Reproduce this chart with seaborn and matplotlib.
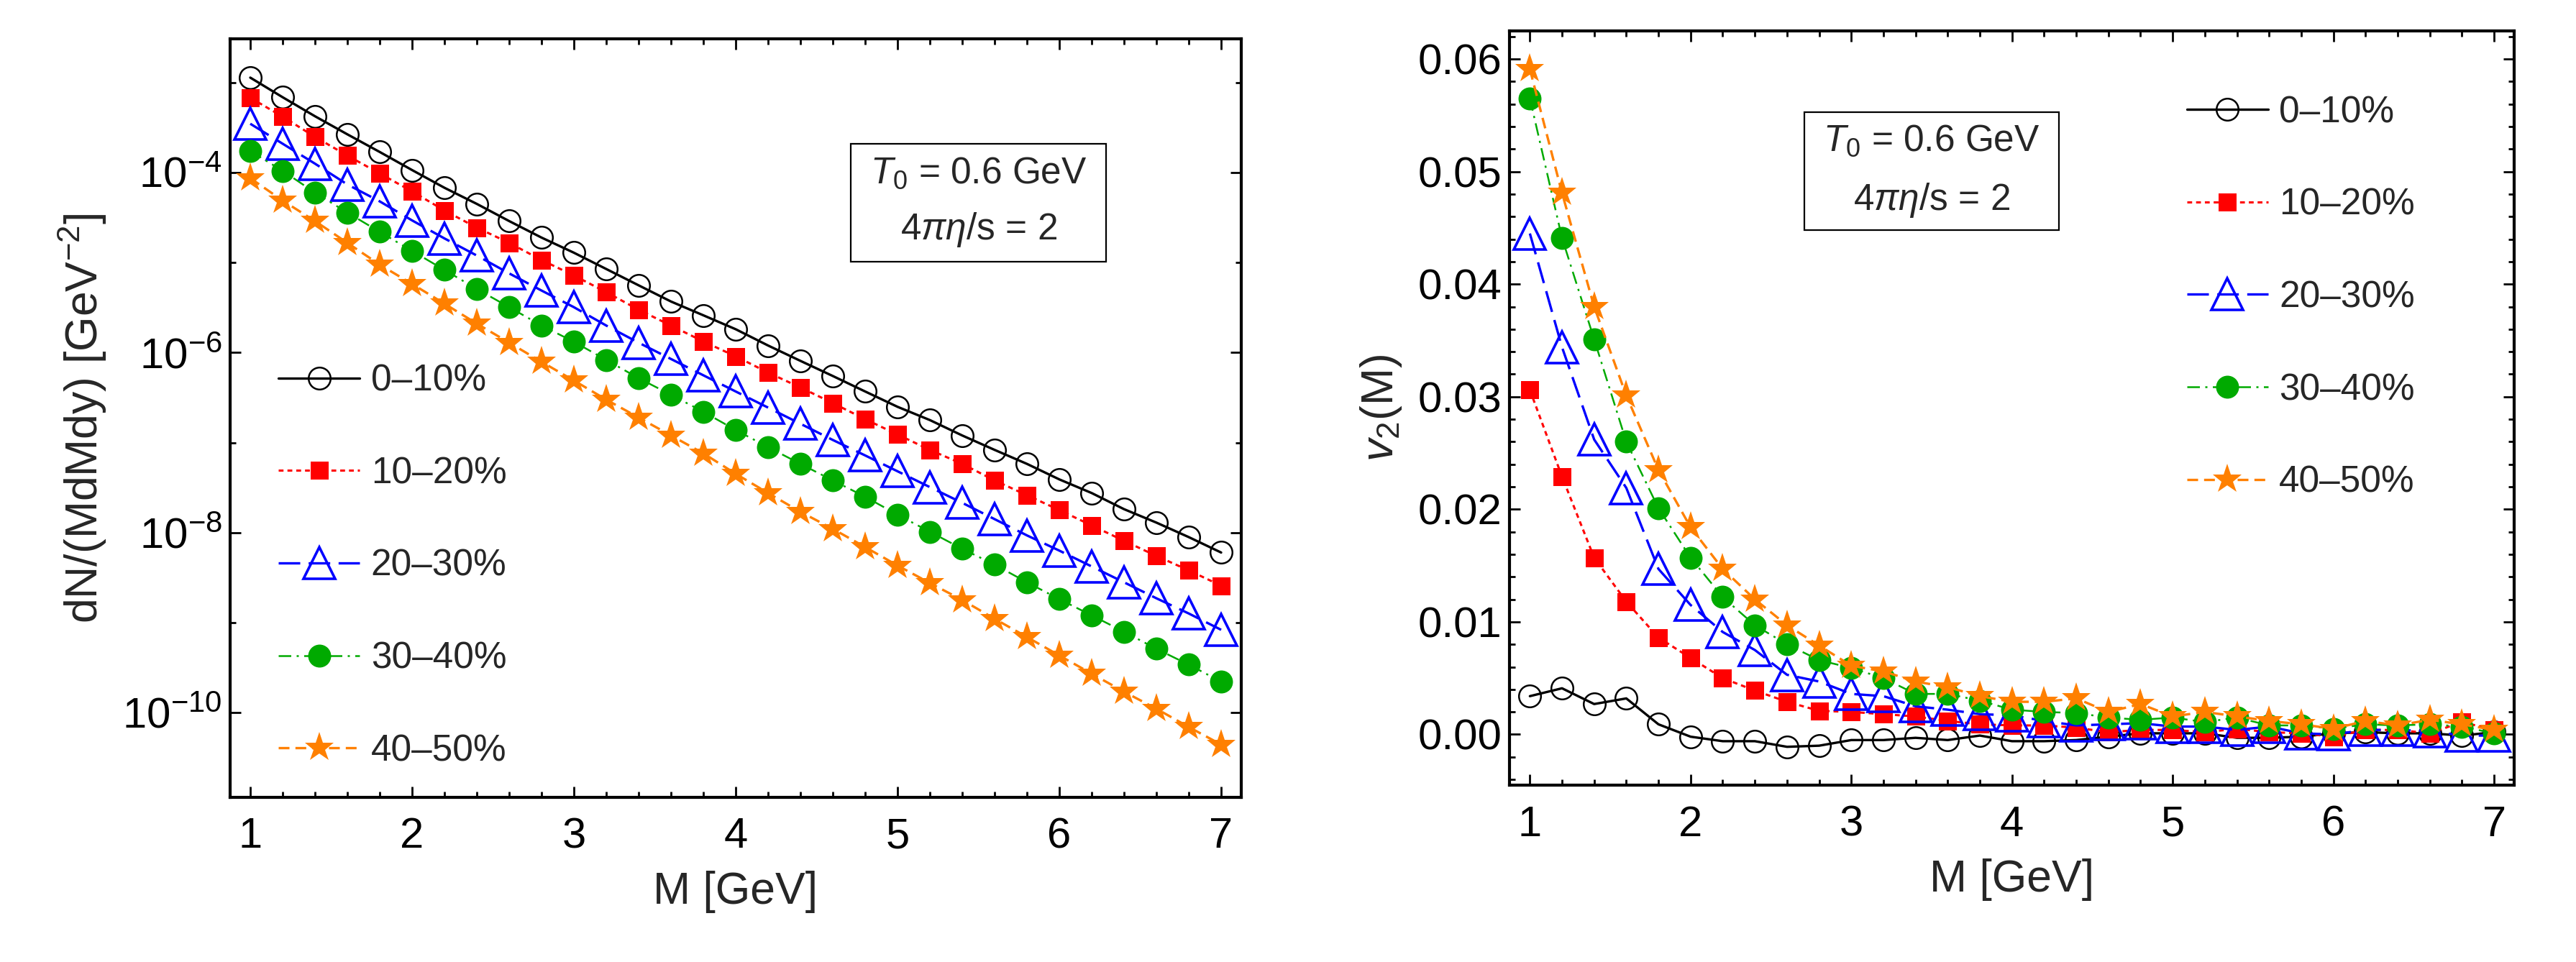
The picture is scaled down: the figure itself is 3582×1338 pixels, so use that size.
import numpy as np
import pandas as pd
import seaborn as sns
import matplotlib.pyplot as plt
from matplotlib.patches import Rectangle
from matplotlib.ticker import FixedLocator, FixedFormatter, MultipleLocator, NullFormatter

# invariant mass grid [GeV]
mass = [1.0, 1.2, 1.4, 1.6, 1.8, 2.0, 2.2, 2.4, 2.6, 2.8, 3.0, 3.2, 3.4, 3.6, 3.8,
        4.0, 4.2, 4.4, 4.6, 4.8, 5.0, 5.2, 5.4, 5.6, 5.8, 6.0, 6.2, 6.4, 6.6, 6.8, 7.0]
centralities = ["0\u201310%", "10\u201320%", "20\u201330%", "30\u201340%", "40\u201350%"]

## yields dN/(MdMdy)
yield_0_10 = [1.14e-3, 6.9e-4, 4.24e-4, 2.67e-4, 1.70e-4, 1.07e-4, 6.8e-5, 4.5e-5, 2.9e-5, 1.9e-5,
              1.29e-5, 8.5e-6, 5.6e-6, 3.7e-6, 2.6e-6, 1.82e-6, 1.20e-6, 8.1e-7, 5.5e-7, 3.7e-7,
              2.5e-7, 1.78e-7, 1.20e-7, 8.3e-8, 5.8e-8, 3.9e-8, 2.75e-8, 1.82e-8, 1.29e-8, 8.9e-9, 6.0e-9]
yield_10_20 = [6.8e-4, 4.2e-4, 2.5e-4, 1.55e-4, 9.8e-5, 6.2e-5, 3.8e-5, 2.45e-5, 1.66e-5, 1.07e-5,
               7.2e-6, 4.7e-6, 3.0e-6, 2.0e-6, 1.33e-6, 9.1e-7, 6.0e-7, 4.1e-7, 2.75e-7, 1.82e-7,
               1.23e-7, 8.3e-8, 5.8e-8, 3.8e-8, 2.6e-8, 1.78e-8, 1.20e-8, 8.1e-9, 5.5e-9, 3.8e-9, 2.57e-9]
yield_20_30 = [3.5e-4, 2.1e-4, 1.26e-4, 7.4e-5, 4.8e-5, 2.95e-5, 1.86e-5, 1.20e-5, 7.6e-6, 4.9e-6,
               3.2e-6, 2.0e-6, 1.29e-6, 8.5e-7, 5.6e-7, 3.7e-7, 2.45e-7, 1.62e-7, 1.07e-7, 7.2e-8,
               4.8e-8, 3.2e-8, 2.14e-8, 1.41e-8, 9.3e-9, 6.3e-9, 4.2e-9, 2.8e-9, 1.86e-9, 1.26e-9, 8.3e-10]
yield_30_40 = [1.74e-4, 1.05e-4, 6.0e-5, 3.6e-5, 2.2e-5, 1.35e-5, 8.3e-6, 5.1e-6, 3.2e-6, 2.0e-6,
               1.32e-6, 8.3e-7, 5.2e-7, 3.4e-7, 2.2e-7, 1.38e-7, 8.9e-8, 5.8e-8, 3.8e-8, 2.5e-8,
               1.58e-8, 1.02e-8, 6.6e-9, 4.4e-9, 2.8e-9, 1.82e-9, 1.20e-9, 7.9e-10, 5.1e-10, 3.4e-10, 2.2e-10]
yield_40_50 = [8.7e-5, 4.9e-5, 2.9e-5, 1.66e-5, 9.5e-6, 5.8e-6, 3.5e-6, 2.1e-6, 1.29e-6, 7.9e-7,
               4.9e-7, 3.0e-7, 1.9e-7, 1.2e-7, 7.6e-8, 4.5e-8, 2.75e-8, 1.70e-8, 1.10e-8, 6.9e-9,
               4.3e-9, 2.75e-9, 1.78e-9, 1.10e-9, 6.9e-10, 4.3e-10, 2.7e-10, 1.70e-10, 1.10e-10, 6.9e-11, 4.4e-11]

## elliptic flow v2(M)
v2_0_10 = [0.0034, 0.0041, 0.0027, 0.0032, 0.0009, -0.0002, -0.0006, -0.0006, -0.0011, -0.0010,
           -0.0005, -0.0005, -0.0003, -0.0005, -0.0001, -0.0006, -0.0006, -0.0005, -0.0002, 0.0001,
           0.0001, 0.0001, -0.0003, -0.0003, -0.0002, 0.0001, 0.0002, 0.0001, 0.0001, -0.0001, 0.0002]
v2_10_20 = [0.0306, 0.0229, 0.0157, 0.0118, 0.0086, 0.0068, 0.0050, 0.0039, 0.0029, 0.0021,
            0.0020, 0.0018, 0.0016, 0.0012, 0.0009, 0.0008, 0.0008, 0.0006, 0.0002, 0.0004,
            0.0004, 0.0002, 0.0005, 0.0002, 0.0001, -0.0002, 0.0004, 0.0004, 0.0001, 0.0011, 0.0004]
v2_20_30 = [0.0445, 0.0344, 0.0262, 0.0219, 0.0147, 0.0115, 0.0091, 0.0075, 0.0053, 0.0047,
            0.0036, 0.0034, 0.0025, 0.0022, 0.0018, 0.0017, 0.0012, 0.0008, 0.0009, 0.0010,
            0.0007, 0.0007, 0.0004, 0.0007, 0.0001, 0.0000, 0.0004, 0.0004, 0.0003, -0.0001, -0.0001]
v2_30_40 = [0.0565, 0.0441, 0.0351, 0.0260, 0.0201, 0.0157, 0.0122, 0.0097, 0.0080, 0.0066,
            0.0059, 0.0050, 0.0036, 0.0036, 0.0030, 0.0022, 0.0020, 0.0019, 0.0015, 0.0013,
            0.0015, 0.0011, 0.0015, 0.0008, 0.0008, 0.0005, 0.0009, 0.0008, 0.0009, 0.0007, 0.0001]
v2_40_50 = [0.0591, 0.0481, 0.0380, 0.0301, 0.0235, 0.0184, 0.0147, 0.0120, 0.0097, 0.0079,
            0.0061, 0.0056, 0.0047, 0.0042, 0.0034, 0.0029, 0.0029, 0.0032, 0.0020, 0.0027,
            0.0016, 0.0020, 0.0016, 0.0012, 0.0009, 0.0005, 0.0012, 0.0008, 0.0013, 0.0009, 0.0004]

yields = [yield_0_10, yield_10_20, yield_20_30, yield_30_40, yield_40_50]
v2s = [v2_0_10, v2_10_20, v2_20_30, v2_30_40, v2_40_50]

# style per centrality class
styles = [
    dict(color="black", marker="o", mfc="none", mec="black", mew=1.8, ms=22, lw=2.4, ls="-"),
    dict(color="#ff0000", marker="s", mfc="#ff0000", mec="#ff0000", mew=0, ms=18, lw=2.2, ls=(0, (2.2, 1.8))),
    dict(color="#0000ff", marker="^", mfc="none", mec="#0000ff", mew=2.6, ms=31, lw=2.4, ls=(0, (9, 3.5))),
    dict(color="#00aa00", marker="o", mfc="#00aa00", mec="#00aa00", mew=0, ms=23, lw=1.8, ls=(0, (7, 3, 1.2, 3))),
    dict(color="#ff8000", marker="*", mfc="#ff8000", mec="#ff8000", mew=0, ms=31, lw=2.4, ls=(0, (4.5, 2.5))),
]

sns.set_theme(style="ticks")
plt.rcParams["font.family"] = ["Liberation Sans", "DejaVu Sans"]
plt.rcParams["mathtext.fontset"] = "custom"
plt.rcParams["mathtext.rm"] = "Liberation Sans"
plt.rcParams["mathtext.it"] = "Liberation Sans:italic"
plt.rcParams["mathtext.bf"] = "Liberation Sans:bold"

fig = plt.figure(figsize=(35.82, 13.38), dpi=100)
ax1 = fig.add_axes([0.0893, 0.1715, 0.3926, 0.7878])
ax2 = fig.add_axes([0.5861, 0.1839, 0.3899, 0.7840])


def draw(ax, series):
    for vals, lab, st in zip(series, centralities, styles):
        df = pd.DataFrame({"M": mass, "val": vals})
        sns.lineplot(data=df, x="M", y="val", ax=ax, color=st["color"], linestyle=st["ls"],
                     linewidth=st["lw"], marker=st["marker"], markersize=st["ms"],
                     markerfacecolor=st["mfc"], markeredgecolor=st["mec"],
                     markeredgewidth=st["mew"], label=lab, errorbar=None, sort=False)


def frame(ax):
    for sp in ax.spines.values():
        sp.set_linewidth(3)
        sp.set_color("black")
    ax.tick_params(which="both", direction="in", top=True, right=True, width=2, colors="black")
    ax.tick_params(which="major", length=11, labelsize=43)
    ax.tick_params(which="minor", length=6)
    ax.tick_params(axis="x", which="major", pad=20)
    ax.tick_params(axis="y", which="major", pad=8)
    ax.xaxis.set_major_locator(MultipleLocator(1))
    ax.xaxis.set_minor_locator(MultipleLocator(0.2))
    ax.set_xlim(0.875, 7.125)
    ax.set_xlabel("M [GeV]", fontsize=45, labelpad=14)


def legend(ax, anchor):
    ax.legend(loc="upper left", bbox_to_anchor=anchor, frameon=False, fontsize=37,
              borderpad=0, borderaxespad=0, handlelength=2.2, handletextpad=0.3,
              labelspacing=1.55, numpoints=1)


def param_box(ax, x0, y0, x1, y1, ytext):
    ax.add_patch(Rectangle((x0, y0), x1 - x0, y1 - y0, transform=ax.transAxes,
                           fill=True, fc="white", ec="black", lw=1.6, zorder=5))
    xc = (x0 + x1) / 2
    ax.text(xc, ytext[0], "$T_0$ = 0.6 GeV", transform=ax.transAxes, ha="center",
            va="center", fontsize=37, zorder=6)
    ax.text(xc, ytext[1], "4$\\pi\\eta$/s = 2", transform=ax.transAxes, ha="center",
            va="center", fontsize=37, zorder=6)


# left: yields on log scale
draw(ax1, yields)
ax1.set_yscale("log")
frame(ax1)
ax1.set_ylim(1.15e-11, 3.05e-3)
ax1.yaxis.set_major_locator(FixedLocator([1e-10, 1e-8, 1e-6, 1e-4]))
ax1.yaxis.set_major_formatter(FixedFormatter([r"$10^{-10}$", r"$10^{-8}$", r"$10^{-6}$", r"$10^{-4}$"]))
ax1.yaxis.set_minor_locator(FixedLocator([1e-9, 1e-7, 1e-5, 1e-3]))
ax1.yaxis.set_minor_formatter(NullFormatter())
ax1.set_ylabel(r"dN/(MdMdy) [GeV$^{-2}$]", fontsize=45, labelpad=14)
legend(ax1, (0.048, 0.572))
param_box(ax1, 0.614, 0.706, 0.866, 0.862, (0.823, 0.749))

# right: v2(M)
draw(ax2, v2s)
frame(ax2)
ax2.set_ylim(-0.0045, 0.0625)
ax2.yaxis.set_major_locator(MultipleLocator(0.01))
ax2.yaxis.set_minor_locator(MultipleLocator(0.002))
ax2.yaxis.set_major_formatter(plt.FuncFormatter(lambda v, p: f"{v:.2f}"))
ax2.set_ylabel(r"$v_2$(M)", fontsize=45, labelpad=14)
legend(ax2, (0.674, 0.915))
param_box(ax2, 0.293, 0.7355, 0.5467, 0.8923, (0.854, 0.775))

fig.savefig("out.png", dpi=100)
